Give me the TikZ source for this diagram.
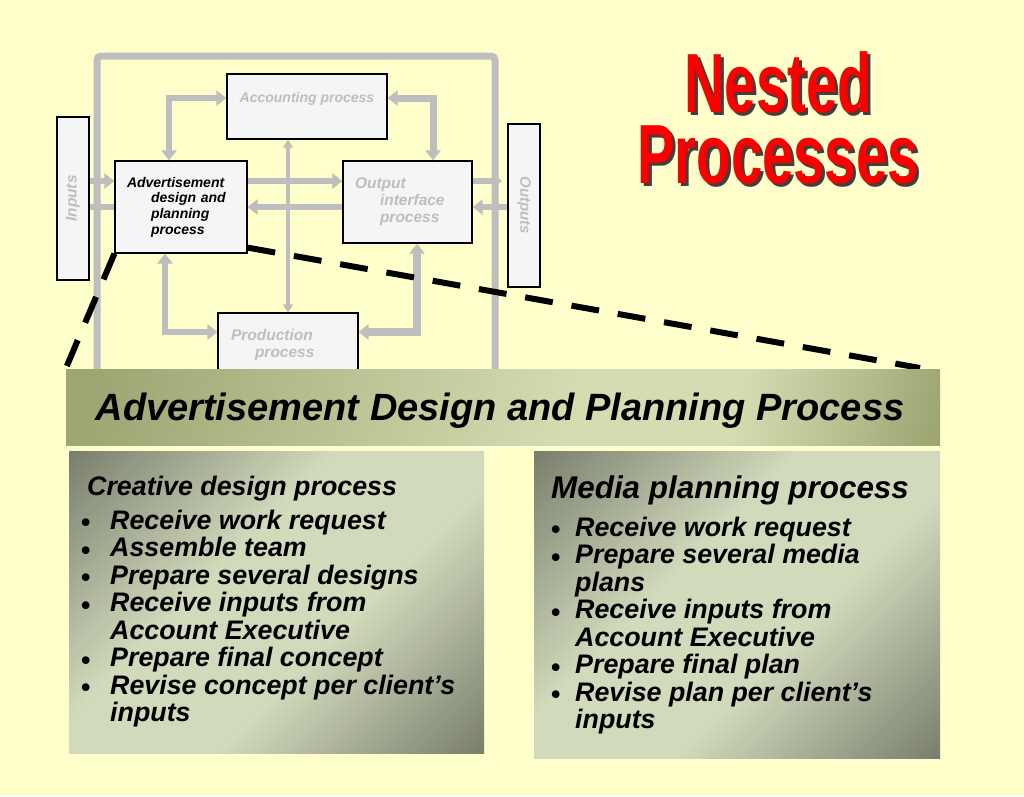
\documentclass[tikz,border=0pt]{standalone}
\usepackage{fontspec}
\setmainfont{Liberation Sans}
\usetikzlibrary{arrows.meta,calc,positioning}

\definecolor{bgyellow}{RGB}{255,255,204}
\definecolor{arrowgrey}{RGB}{190,190,190}
\definecolor{boxfill}{RGB}{245,245,245}
\definecolor{greytext}{RGB}{190,190,190}
\definecolor{titlered}{RGB}{250,0,0}
\definecolor{panelDark}{RGB}{122,128,110}
\definecolor{panelLight}{RGB}{210,218,188}
\definecolor{bannerDark}{RGB}{158,166,116}
\definecolor{bannerLight}{RGB}{214,220,178}

\pgfdeclarehorizontalshading{panelshade}{100bp}{color(0bp)=(panelDark); color(15bp)=(panelDark); color(41bp)=(panelLight); color(59bp)=(panelLight); color(85bp)=(panelDark); color(100bp)=(panelDark)}
\pgfdeclarehorizontalshading{bannershade}{100bp}{color(0bp)=(bannerDark); color(22bp)=(bannerDark); color(55bp)=(bannerLight); color(66bp)=(bannerLight); color(80bp)=(bannerDark); color(100bp)=(bannerDark)}

\newlength{\bltw}
\setlength{\bltw}{29pt}
\newcommand{\narrow}[1]{\scalebox{0.67}[1]{#1}}
\newcommand{\blt}{\makebox[\bltw][l]{\raisebox{-2.5pt}{\upshape\textbullet}}}
\newcommand{\ind}{\hspace*{\bltw}}

\begin{document}
\begin{tikzpicture}[x=1pt, y=-1pt,
	>={Triangle[width=15pt,length=10pt]},
	frame/.style={draw=arrowgrey, line width=7pt, rounded corners=4pt},
	fat/.style={draw=arrowgrey, line width=6pt},
	slim/.style={draw=arrowgrey, line width=4pt, >={Triangle[width=10pt,length=8pt]}},
	proc/.style={draw=black, line width=1.2pt, fill=boxfill, inner sep=0pt, align=left, text=greytext},
	sidebox/.style={proc, font=\fontsize{15.5}{17}\selectfont\bfseries\itshape},
	zoomline/.style={draw=black, line width=6pt, dash pattern=on 28pt off 19pt},
	panel/.style={shade, shading=panelshade, shading angle=-45, inner sep=0pt},
	paneltxt/.style={inner sep=0pt, align=left, font=\fontsize{26.8}{27.45}\selectfont\bfseries\itshape},
	titletxt/.style={inner sep=0pt, align=center, text=titlered, font=\fontsize{84}{71}\selectfont\bfseries},
	titleshadow/.style={titletxt, text=black!75}]

	\fill[bgyellow] (0,0) rectangle (1024,796);
	\useasboundingbox (0,0) rectangle (1024,796);

	\node[titleshadow, anchor=north] (titleshadow) at (781,54) {\narrow{Nested}\\\narrow{Processes}};
	\node[titletxt, anchor=north] (title) at (778,51) {\narrow{Nested}\\\narrow{Processes}};

	\draw[frame] (97,372) |- (495,56) -- (495,372);

	\node[sidebox, minimum width=32pt, minimum height=163pt] (inputs) at (73,198.5) {\rotatebox{90}{Inputs}};
	\node[sidebox, minimum width=32pt, minimum height=163pt, font=\fontsize{15}{17}\selectfont\bfseries\itshape] (outputs) at (524,205.5) {\rotatebox{-90}{Outputs}};
	\node[proc, minimum width=160pt, minimum height=65pt] (acct) at (307,106.5) {};
	\node[inner sep=0pt, text=greytext, font=\fontsize{14}{16}\selectfont\bfseries\itshape] (accttxt) at ($(acct.north)+(0,25)$) {Accounting process};
	\node[proc, text=black, minimum width=132pt, minimum height=92pt, text width=108pt, font=\fontsize{14}{15.7}\selectfont\bfseries\itshape] (adv) at (181,207) {Advertisement\\\hspace*{24pt}design and\\\hspace*{24pt}planning\\\hspace*{24pt}process};
	\node[proc, minimum width=129pt, minimum height=82pt, text width=105pt, font=\fontsize{15.5}{17}\selectfont\bfseries\itshape] (outif) at (407.5,202) {Output\\\hspace*{25pt}interface\\\hspace*{25pt}process};
	\node[proc, minimum width=140pt, minimum height=63pt, text width=114pt, font=\fontsize{15.5}{17}\selectfont\bfseries\itshape] (prod) at (288,344.5) {Production\\\hspace*{24pt}process};

	\coordinate (rowT) at (0,98);
	\coordinate (rowA) at (0,181);
	\coordinate (rowB) at (0,207);
	\coordinate (rowP) at (0,332);
	\coordinate (colA) at (169,0);
	\coordinate (colB) at (433,0);
	\coordinate (colD) at (165,0);
	\coordinate (colE) at (417,0);
	\coordinate (outend) at (502,181);

	\draw[fat, ->] (inputs.east |- rowA) -- (adv.west |- rowA);
	\draw[fat] (adv.west |- rowB) -- (inputs.east |- rowB);
	\draw[fat, ->] (adv.east |- rowA) -- (outif.west |- rowA);
	\draw[fat, ->] (outif.west |- rowB) -- (adv.east |- rowB);
	\draw[fat, ->] (outif.east |- rowA) -- (outend);
	\draw[fat, ->] (outputs.west |- rowB) -- (outif.east |- rowB);
	\draw[fat, <->] (adv.north -| colA) |- (acct.west |- rowT);
	\draw[fat, line width=7pt, <->] (acct.east |- rowT) -| (outif.north -| colB);
	\draw[slim, <->] (acct.south -| prod.north) -- (prod.north);
	\draw[fat, <->] (adv.south -| colD) |- (prod.west |- rowP);
	\draw[fat, line width=7.5pt, <->] (outif.south -| colE) |- (prod.east |- rowP);

	\coordinate (zoomL) at (66,368);
	\coordinate (zoomR) at (920,368);
	\draw[zoomline] (adv.south west) -- (zoomL);
	\draw[zoomline] ($(adv.south east)+(0,-6)$) -- (zoomR);

	\node[inner sep=0pt, shade, shading=bannershade, shading angle=-15, minimum width=874pt, minimum height=76pt] (banner) at (503,407) {};
	\node[inner sep=0pt, anchor=base, font=\fontsize{38}{40}\selectfont\bfseries\itshape] (bannertxt) at (500,420) {Advertisement Design and Planning Process};

	\node[panel, minimum width=415pt, minimum height=302pt] (creative) at (276.5,602) {};
	\node[paneltxt, anchor=base west] (creativehead) at (87,495) {Creative design process};
	\node[paneltxt, anchor=north west] (creativelist) at (81,509.8) {\blt Receive work request\\\blt Assemble team\\\blt Prepare several designs\\\blt Receive inputs from\\\ind Account Executive\\\blt Prepare final concept\\\blt Revise concept per client’s\\\ind inputs};

	\setlength{\bltw}{24pt}
	\node[panel, minimum width=406pt, minimum height=307pt] (media) at (737,604.5) {};
	\node[paneltxt, anchor=base west, font=\fontsize{31.4}{34}\selectfont\bfseries\itshape] (mediahead) at (551,498) {Media planning process};
	\node[paneltxt, anchor=north west] (medialist) at (551,516.7) {\blt Receive work request\\\blt Prepare several media\\\ind plans\\\blt Receive inputs from\\\ind Account Executive\\\blt Prepare final plan\\\blt Revise plan per client’s\\\ind inputs};

\end{tikzpicture}
\end{document}
